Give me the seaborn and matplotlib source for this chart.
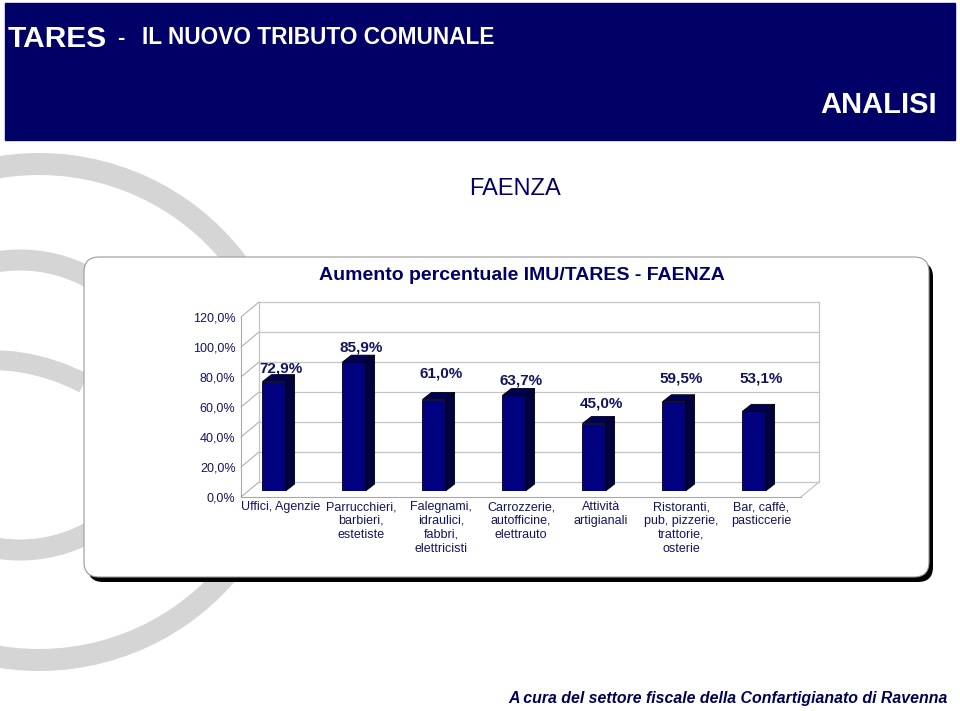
"""Aumento percentuale IMU/TARES - Faenza (barre 3D stile Excel)."""

import matplotlib
matplotlib.use("Agg")

import matplotlib.pyplot as plt
import numpy as np
import pandas as pd
import seaborn as sns
from matplotlib.patches import Arc, FancyBboxPatch, Polygon, Rectangle

# --- dati ---------------------------------------------------------------
categorie = [
    "Uffici, Agenzie",
    "Parrucchieri,\nbarbieri,\nestetiste",
    "Falegnami,\nidraulici,\nfabbri,\nelettricisti",
    "Carrozzerie,\nautofficine,\nelettrauto",
    "Attività\nartigianali",
    "Ristoranti,\npub, pizzerie,\ntrattorie,\nosterie",
    "Bar, caffè,\npasticcerie",
]
aumento = [72.9, 85.9, 61.0, 63.7, 45.0, 59.5, 53.1]
y_ticks = [0, 20, 40, 60, 80, 100, 120]

# --- stile / layout ---------------------------------------------------------
label_lift = [12.6, 13.6, 21.0, 13.9, 17.0, 19.5, 25.9]  # posizione etichette (punti %)
NAVY = "#000066"
TEXT = "#14145c"
GRID = "#c4c4c4"
SWOOSH = "#d5d5d5"
W, H = 960, 711

sns.set_theme(style="white")
plt.rcParams["font.family"] = ["Liberation Sans", "DejaVu Sans"]


def pct(v):
    return f"{v:.1f}%".replace(".", ",")


fig = plt.figure(figsize=(W / 100, H / 100), dpi=100)
fig.patch.set_facecolor("white")

# sfondo in coordinate pixel
bg = fig.add_axes([0, 0, 1, 1])
bg.set_xlim(0, W)
bg.set_ylim(H, 0)
bg.axis("off")

# logo grigio sullo sfondo
for cx, cy, r, t1, t2, lw in [
    (39, 412, 248, -110, 110, 22),
    (20, 405, 145, -110, 110, 21),
    (-10, 560, 200, -100, -62, 20),
]:
    bg.add_patch(Arc((cx, cy), 2 * r, 2 * r, theta1=t1, theta2=t2,
                     lw=lw * 0.72, color=SWOOSH, capstyle="butt"))

# intestazione
bg.add_patch(Rectangle((5, 3), 950, 137, color=NAVY))
bg.text(8, 47, "TARES", color="white", fontsize=21.5, weight="bold",
        va="baseline")
bg.text(117, 44, "-", color="white", fontsize=16, weight="bold", va="baseline")
bg.text(142, 44, "IL NUOVO TRIBUTO COMUNALE", color="white", fontsize=16.3,
        weight="bold", va="baseline")
bg.text(937, 113, "ANALISI", color="white", fontsize=21, weight="bold",
        ha="right", va="baseline")

bg.text(515, 189, "FAENZA", color=NAVY, fontsize=17, ha="center", va="center")

# riquadro del grafico con ombra
box = dict(boxstyle="round,pad=0,rounding_size=15")
bg.add_patch(FancyBboxPatch((88, 262), 845, 320, facecolor="black",
                            edgecolor="black", lw=0, **box))
bg.add_patch(FancyBboxPatch((84, 257), 845, 320, facecolor="white",
                            edgecolor="#9a9a9a", lw=0.8, **box))
bg.text(522, 275, "Aumento percentuale IMU/TARES - FAENZA", color=NAVY,
        fontsize=14, weight="bold", ha="center", va="center")

bg.text(948, 698, "A cura del settore fiscale della Confartigianato di Ravenna",
        color="#000055", fontsize=11.4, weight="bold", style="italic",
        ha="right", va="center")

# --- assi: piano frontale --------------------------------------------------
left, width = 241 / W, 560 / W
ax = fig.add_axes([left, (H - 497) / H, width, 180 / H])
ax.set_xlim(-0.5, 6.5)
ax.set_ylim(0, 120)
ax.patch.set_alpha(0)
for s in ["top", "right"]:
    ax.spines[s].set_visible(False)
for s in ["left", "bottom"]:
    ax.spines[s].set_color("#a8a8a8")
    ax.spines[s].set_linewidth(0.8)


def depth(a, x, y, dx, dy):
    px, py = a.transData.transform((x, y))
    return a.transData.inverted().transform((px + dx, py + dy))


# parete di fondo, pavimento e parete laterale
DX, DY = 18, 15
for v in y_ticks:
    bx0, by0 = depth(ax, -0.5, v, DX, DY)
    bx1, by1 = depth(ax, 6.5, v, DX, DY)
    ax.plot([bx0, bx1], [by0, by1], color=GRID, lw=0.9, clip_on=False, zorder=0)
    ax.plot([-0.5, bx0], [v, by0], color="#a8a8a8", lw=0.7, clip_on=False, zorder=0)
for xe in [-0.5, 6.5]:
    b0 = depth(ax, xe, 0, DX, DY)
    b1 = depth(ax, xe, 120, DX, DY)
    ax.plot([b0[0], b1[0]], [b0[1], b1[1]], color=GRID, lw=0.9, clip_on=False, zorder=0)
b0 = depth(ax, 6.5, 0, DX, DY)
ax.plot([6.5, b0[0]], [0, b0[1]], color=GRID, lw=0.9, clip_on=False, zorder=0)

ax.set_yticks(y_ticks, labels=[pct(v) for v in y_ticks])
ax.set_xticks(range(len(categorie)), labels=categorie)
ax.set_xticks(np.arange(-0.5, len(categorie), 1), minor=True)
ax.tick_params(axis="y", length=0, pad=4, labelsize=9, labelcolor=TEXT)
ax.tick_params(axis="x", which="major", length=0, pad=3, labelsize=9,
               labelcolor=TEXT)
ax.tick_params(axis="x", which="minor", length=3, width=0.7, color="#a8a8a8",
               direction="out")

# --- barre (faccia frontale con seaborn, spostate in profondità) ----------
axb = fig.add_axes([left - 7 / W, (H - 491) / H, width, 180 / H])
df = pd.DataFrame({"categoria": categorie, "aumento": aumento})
sns.barplot(data=df, x="categoria", y="aumento", ax=axb, color="#000080",
            saturation=1, width=0.29, edgecolor="black", linewidth=0.6)
axb.set_xlim(-0.5, 6.5)
axb.set_ylim(0, 120)
axb.axis("off")
axb.patch.set_alpha(0)

for p in axb.patches:
    x0, w, h = p.get_x(), p.get_width(), p.get_height()
    x1 = x0 + w
    top = [(x0, h), (x1, h), depth(axb, x1, h, 9, 7), depth(axb, x0, h, 9, 7)]
    side = [(x1, 0), (x1, h), depth(axb, x1, h, 9, 7), depth(axb, x1, 0, 9, 7)]
    axb.add_patch(Polygon(top, closed=True, facecolor="#000052",
                          edgecolor="black", lw=0.6, clip_on=False))
    axb.add_patch(Polygon(side, closed=True, facecolor="#00003e",
                          edgecolor="black", lw=0.6, clip_on=False))

# etichette valori
for i, (v, lift) in enumerate(zip(aumento, label_lift)):
    ax.text(i, v + lift, pct(v), color=TEXT, fontsize=11, weight="bold",
            ha="center", va="center", zorder=5)

fig.savefig("out.png", dpi=100)
plt.close(fig)
